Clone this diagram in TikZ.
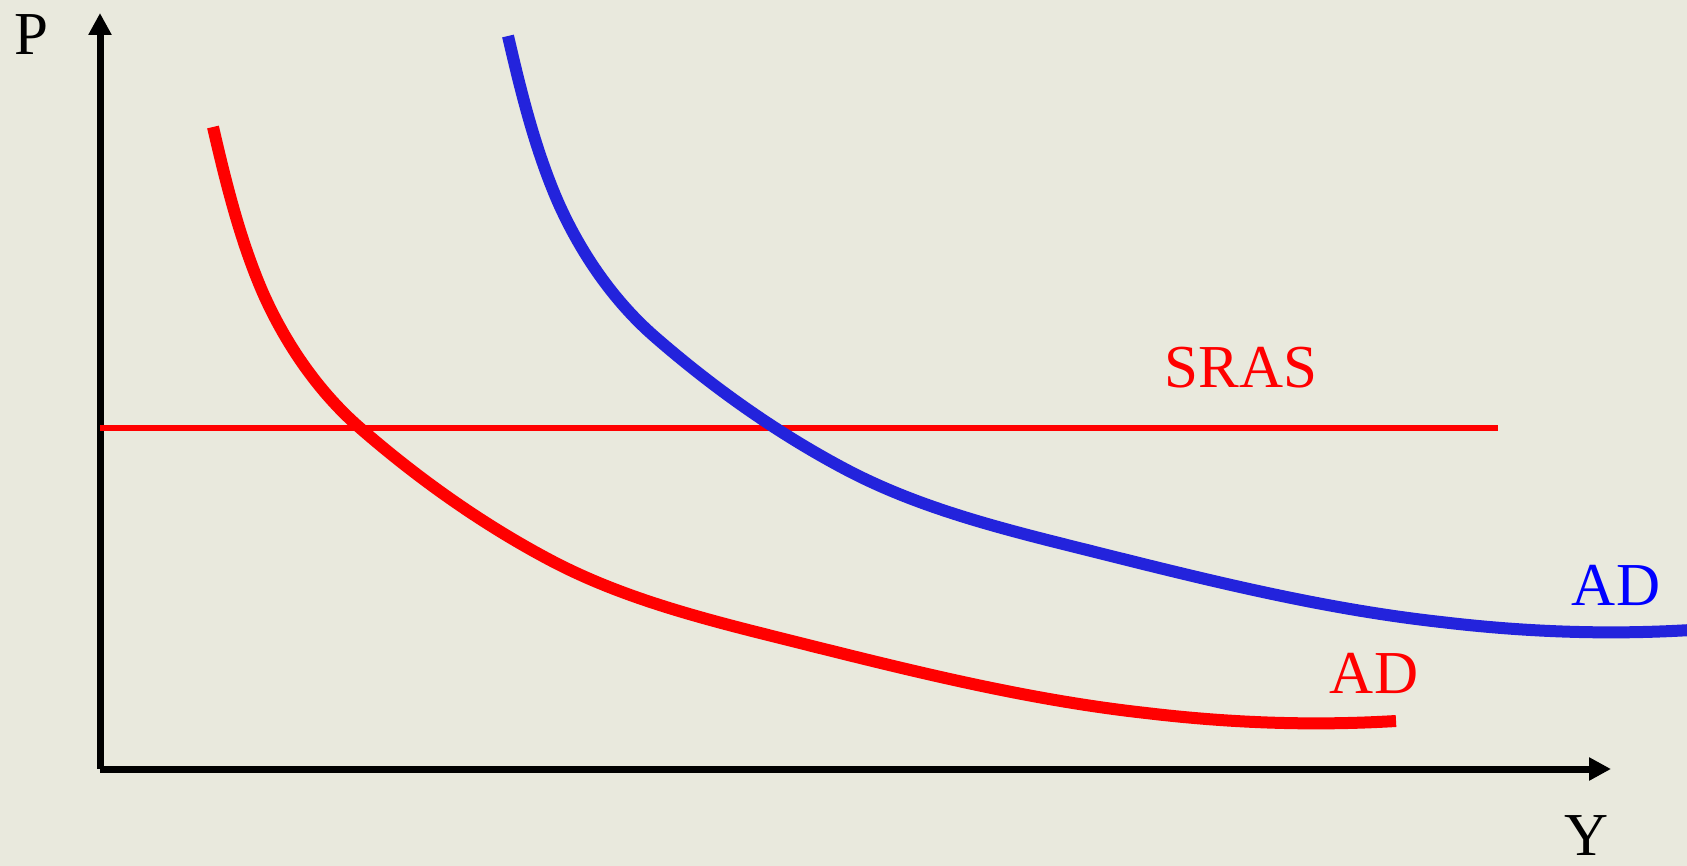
\documentclass[tikz,border=0pt]{standalone}
\usepackage{fontspec}
\setmainfont{Liberation Serif}
\usepackage{tikz}
\usetikzlibrary{arrows.meta,calc}
\usepackage{xcolor}

\definecolor{paper}{RGB}{233,233,221}
\definecolor{adblue}{RGB}{35,35,220}
\definecolor{lblblue}{RGB}{0,0,255}

\tikzset{
	axis/.style={line width=7pt, -{Triangle[length=22pt,width=22pt]}},
	demand/.style={line width=12pt},
	supply/.style={line width=6.5pt, red},
	lbl/.style={inner sep=0pt, anchor=base, font=\fontsize{61}{70}\selectfont}
}

% the AD curve, built from cubic pieces
\def\adcurve{(213,127) .. controls (226,183) and (240,240) .. (263,293)
	.. controls (285.5,343.6) and (318.2,391.7) .. (360,428)
	.. controls (418,478.5) and (482,524) .. (550,560)
	.. controls (627.8,601.2) and (714.6,621.6) .. (800,643)
	.. controls (914.2,671.6) and (1029,700.1) .. (1146,713)
	.. controls (1230,723) and (1312,726) .. (1396,721)}

\begin{document}
\begin{tikzpicture}[x=1pt, y=-1pt]

			\def\W{1687} \def\H{866}
			\def\ox{100} \def\oy{769}   % corner of the axes
			\def\sras{428}              % price level of SRAS
			\def\dx{295} \def\dy{-91}   % shift of the new AD curve

			% Background
			\fill[paper] (0,0) rectangle (\W,\H);
			\useasboundingbox (0,0) rectangle (\W,\H);
			\clip (0,0) rectangle (\W,\H);

			% Axes
			\coordinate (O) at (\ox,\oy);
			\coordinate (Ptip) at (\ox,13);
			\coordinate (Ytip) at (1611,\oy);
			\draw[axis] (O) -- (Ptip);
			\draw[axis] (O) -- (Ytip);
			\node[lbl] (P) at (31,55) {P};
			\node[lbl] (Y) at (1587,855) {Y};

			% SRAS
			\coordinate (sL) at (\ox,\sras);
			\coordinate (sR) at (1498,\sras);
			\draw[supply] (sL) -- (sR);
			\node[lbl, red] (SRAS) at (1241,388) {SRAS};

			% AD curves: the blue one is the red one shifted
			\foreach \col/\sx/\sy in {red/0/0, adblue/\dx/\dy}
				\draw[demand, \col, shift={(\sx,\sy)}] \adcurve;
			\node[lbl, red] (AD1) at (1374,693) {AD};
			\node[lbl, lblblue] (AD2) at (1616,605) {AD};

\end{tikzpicture}
\end{document}
